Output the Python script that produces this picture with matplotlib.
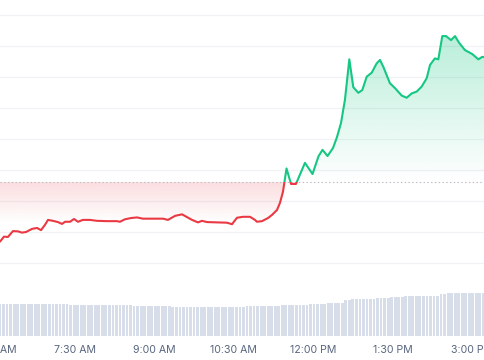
#! /usr/bin/env python3
"""
Intraday price chart with reference line, two-tone line and volume bars
"""

import numpy as np
import matplotlib
matplotlib.use('Agg')
import matplotlib.pyplot as plt
from matplotlib.colors import to_rgb
from matplotlib.patches import Rectangle
from matplotlib.transforms import blended_transform_factory

# minutes since 6:00 AM
minutes = [
    5, 9.5, 14, 19.7, 25.4, 30, 34.5, 41.3, 47, 51.5, 56, 59.4, 65, 70.7,
    75.3, 78.7, 84.4, 88.9, 93.4, 99, 107, 115, 126.3, 137.6, 141, 146.7,
    153.5, 160.3, 167, 178.4, 189.8, 195.4, 203.4, 211.3, 217, 222.7, 229.5,
    234, 239.7, 251, 262.3, 268, 273.7, 280.5, 288.4, 294, 296.3, 302,
    308.8, 313.3, 319, 322.4, 325.8, 329.8, 334.9, 340.5, 350.7, 359.3, 366,
    370.6, 376.3, 382.5, 387, 391.6, 396, 401, 405.5, 411.2, 415.7, 420.7,
    426.4, 432, 435.8, 439.5, 447, 452.8, 460.4, 466, 471.7, 477.4, 483,
    488.7, 492.5, 498, 501.9, 506.4, 510.6, 516.3, 520.8, 525.3, 532, 540.4,
    547.2, 551.7, 554.8,
]
prices = [
    6.9, 8.5, 8.4, 10.3, 10.2, 9.8, 10.0, 11.0, 11.3, 10.6, 12.3, 13.9, 13.6,
    13.2, 12.6, 13.3, 13.3, 14.2, 13.3, 13.9, 13.9, 13.6, 13.5, 13.5, 13.3,
    14.1, 14.5, 14.7, 14.3, 14.3, 14.3, 13.9, 15.2, 15.7, 14.8, 13.9, 13.1,
    13.6, 13.2, 13.1, 13.0, 12.5, 14.6, 14.9, 14.9, 13.9, 13.3, 13.5, 14.5,
    15.5, 17.1, 19.4, 23.0, 30.5, 25.5, 25.5, 32.3, 28.7, 34.4, 36.5, 34.5,
    37.1, 40.6, 45.2, 52.6, 65.7, 56.7, 54.9, 55.8, 60.1, 61.4, 64.4, 65.5,
    63.3, 58.0, 56.4, 54.0, 53.3, 54.7, 55.3, 56.9, 59.6, 63.9, 66.0, 65.7,
    73.2, 73.2, 71.9, 73.2, 71.1, 68.7, 67.4, 65.7, 66.5, 66.4,
]
ref_price = 26.1

# volume bars, one every 4 minutes from 6:05 AM
vol_minutes = np.arange(5, 555, 4)
volumes = (
    [3.16, 3.16, 3.15, 3.15, 3.16, 3.15, 3.15, 3.15, 3.14, 3.15,
     3.15, 3.15, 3.14, 3.15, 3.14, 3.14, 3.13, 3.13, 3.12, 3.12]
    + [3.06, 3.06, 3.05, 3.05, 3.05, 3.05, 3.05, 3.05, 3.04, 3.05,
       3.04, 3.04, 3.04, 3.03, 3.03, 3.03, 3.02, 3.02, 3.0]
    + [2.96, 2.96, 2.95, 2.95, 2.95, 2.95, 2.94, 2.94, 2.93, 2.92]
    + [2.89, 2.89, 2.88, 2.88, 2.88, 2.88, 2.88, 2.88, 2.88, 2.88, 2.88,
       2.88, 2.88, 2.88, 2.88, 2.88, 2.88, 2.88, 2.89, 2.89, 2.9, 2.91]
    + [2.93, 2.94, 2.95, 2.95, 2.96, 2.97, 2.98, 2.99, 3.0]
    + [3.02, 3.03, 3.04, 3.05, 3.06, 3.07, 3.08, 3.1]
    + [3.14, 3.16, 3.18, 3.2, 3.2, 3.21, 3.22, 3.23, 3.24, 3.26]
    + [3.55, 3.6, 3.62, 3.64, 3.65, 3.66, 3.67, 3.69, 3.7]
    + [3.76, 3.78, 3.8, 3.8, 3.81, 3.82, 3.84]
    + [3.9, 3.92, 3.93, 3.94, 3.95, 3.95, 3.96, 3.97, 3.98, 3.99, 4.0]
    + [4.18, 4.2, 4.22, 4.23, 4.24, 4.25, 4.25, 4.26, 4.27, 4.28, 4.28,
       4.29, 4.3]
)

tick_minutes = [0, 90, 180, 270, 360, 450, 540]
tick_labels = ['6:00 AM', '7:30 AM', '9:00 AM', '10:30 AM', '12:00 PM',
               '1:30 PM', '3:00 PM']

grid_levels = [0, 10, 20, 30, 40, 50, 60, 70, 80]

RED = '#ea3943'
GREEN = '#16c784'


def gradient_image(ax, color, a_low, a_high, x0, x1, y0, y1, clip):
    grad = np.zeros((256, 1, 4))
    grad[:, :, :3] = to_rgb(color)
    grad[:, 0, 3] = np.linspace(a_low, a_high, 256)
    im = ax.imshow(grad, aspect='auto', origin='lower',
                   extent=[x0, x1, y0, y1], zorder=1,
                   interpolation='bilinear')
    im.set_clip_path(clip, transform=ax.transData)


def main():
    t = np.array(minutes, dtype=float)
    p = np.array(prices, dtype=float)
    xlim = (5, 554.8)
    ylim = (-23.39, 84.84)

    fig = plt.figure(figsize=(4.85, 3.6), dpi=100)
    bottom = 24.5 / 360
    ax = fig.add_axes([0, bottom, 1, 1 - bottom])
    ax.set_facecolor('white')

    # horizontal grid
    for g in grid_levels:
        ax.axhline(g, color='#f0f2f5', lw=0.9, zorder=0)

    # gradient fills between line and reference price
    poly = ax.fill_between(t, p, ref_price, facecolor='none',
                           edgecolor='none')
    clip = poly.get_paths()[0]
    gradient_image(ax, GREEN, 0.0, 0.3, t[0], t[-1], ref_price, p.max(),
                   clip)
    gradient_image(ax, RED, 0.0, 0.17, t[0], t[-1], 13, ref_price, clip)

    # reference line
    ax.axhline(ref_price, color='#b8bcc4', lw=0.8, ls=(0, (1.2, 2.2)),
               zorder=2)

    # two-tone price line
    for color, y0, h in [(GREEN, ref_price, 200), (RED, ref_price - 200, 200)]:
        line, = ax.plot(t, p, color=color, lw=1.5, zorder=3,
                        solid_joinstyle='round', solid_capstyle='round')
        rect = Rectangle((xlim[0] - 50, y0), 1000, h, transform=ax.transData)
        line.set_clip_path(rect)

    ax.set_xlim(*xlim)
    ax.set_ylim(*ylim)
    ax.axis('off')

    # volume bars
    vax = fig.add_axes([0, bottom, 1, 100 / 360])
    vax.bar(vol_minutes, volumes, width=3.2, color='#d7dde9', linewidth=0)
    vax.set_xlim(*xlim)
    vax.set_ylim(0, 10)
    vax.patch.set_alpha(0)
    vax.axis('off')

    # time labels (drawn as text so edge labels can be partially cut)
    trans = blended_transform_factory(ax.transData, fig.transFigure)
    for m, lab in zip(tick_minutes, tick_labels):
        ax.text(m, 1 - 350 / 360, lab, transform=trans, ha='center',
                va='center', fontsize=7.6, color='#58667e',
                family=['Inter', 'DejaVu Sans'], clip_on=False)

    fig.savefig('out.png', dpi=100, facecolor='white')


if __name__ == '__main__':
    main()
